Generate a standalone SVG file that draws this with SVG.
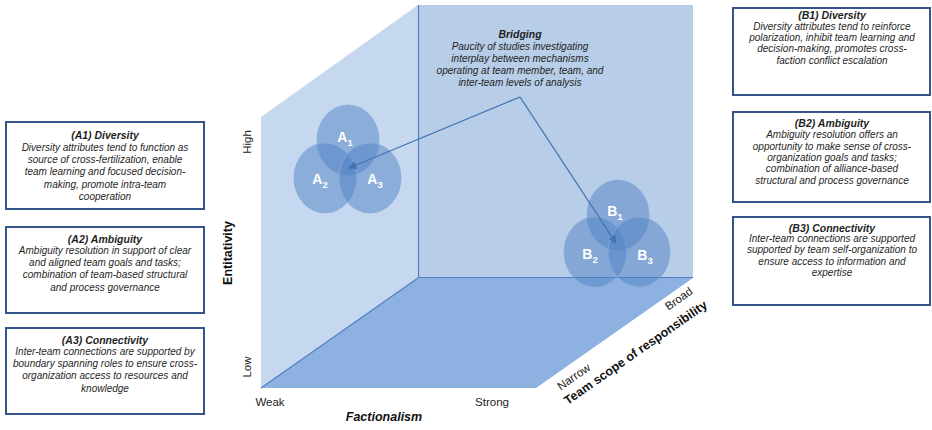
<svg xmlns="http://www.w3.org/2000/svg" width="932" height="430" viewBox="0 0 932 430">
  <style>
    .box { fill: #ffffff; stroke: #34558b; stroke-width: 2; }
    .bt { font-family: "Liberation Sans", Arial, sans-serif; font-size: 10px; font-style: italic; fill: #1f1f1f; text-anchor: middle; }
    .bh { font-weight: bold; font-size: 10.5px; }
    .edge { stroke: #4f7fbf; stroke-width: 1.2; fill: none; }
    .bubble { fill: #4f81c4; fill-opacity: 0.5; stroke: #86aadb; stroke-width: 1; stroke-opacity: 0.8; }
    .bl { font-family: "Liberation Sans", Arial, sans-serif; font-size: 14px; font-weight: bold; fill: #ffffff; text-anchor: middle; }
    .sub { font-size: 9.5px; }
    .ax { font-family: "Liberation Sans", Arial, sans-serif; font-size: 11.5px; fill: #222222; text-anchor: middle; }
    .axb { font-family: "Liberation Sans", Arial, sans-serif; font-size: 12.5px; font-weight: bold; fill: #111111; text-anchor: middle; }
    .link { stroke: #3f72b3; stroke-width: 1.3; fill: none; marker-end: url(#tip); }
  </style>
  <defs>
    <marker id="tip" viewBox="0 0 10 10" refX="9" refY="5" markerWidth="9" markerHeight="8" orient="auto" markerUnits="userSpaceOnUse">
      <path d="M0,0 L10,5 L0,10 z" fill="#3f72b3"/>
    </marker>
  </defs>

  <!-- 3D frame: back wall, side wall, floor -->
  <g id="frame">
    <rect x="418" y="5" width="275" height="273" fill="#b8cde7"/>
    <polygon points="261,117 418,5 418,278 261,388" fill="#c6d8ef"/>
    <polygon points="261,388 418,278 693,278 536,388" fill="#8db2e1"/>
    <line class="edge" x1="418.5" y1="5" x2="418.5" y2="278"/>
    <line class="edge" x1="418" y1="277.5" x2="693" y2="277.5"/>
    <line class="edge" x1="261" y1="388" x2="418" y2="278"/>
  </g>

  <!-- axis labels -->
  <g id="axes">
    <text class="ax" transform="translate(251,142) rotate(-90)">High</text>
    <text class="ax" transform="translate(251,367) rotate(-90)">Low</text>
    <text class="axb" transform="translate(232,253) rotate(-90)">Entitativity</text>
    <text class="ax" x="270" y="406">Weak</text>
    <text class="ax" x="492" y="406">Strong</text>
    <text class="axb" x="384" y="421" font-style="italic">Factionalism</text>
    <text class="ax" transform="translate(576,380) rotate(-35)">Narrow</text>
    <text class="ax" transform="translate(681,302) rotate(-35)">Broad</text>
    <text class="axb" transform="translate(638,356) rotate(-35)">Team scope of responsibility</text>
  </g>

  <!-- A cluster -->
  <g id="A1"><ellipse class="bubble" cx="348" cy="140" rx="31" ry="35"/><text class="bl" x="345" y="142">A<tspan class="sub" dy="4">1</tspan></text></g>
  <g id="A2"><ellipse class="bubble" cx="325" cy="178" rx="31" ry="35"/><text class="bl" x="320" y="184">A<tspan class="sub" dy="4">2</tspan></text></g>
  <g id="A3"><ellipse class="bubble" cx="370" cy="178" rx="31" ry="35"/><text class="bl" x="375" y="184">A<tspan class="sub" dy="4">3</tspan></text></g>

  <!-- B cluster -->
  <g id="B1"><ellipse class="bubble" cx="618" cy="215" rx="31" ry="35"/><text class="bl" x="615" y="216">B<tspan class="sub" dy="4">1</tspan></text></g>
  <g id="B2"><ellipse class="bubble" cx="595" cy="252" rx="31" ry="35"/><text class="bl" x="590" y="259">B<tspan class="sub" dy="4">2</tspan></text></g>
  <g id="B3"><ellipse class="bubble" cx="639" cy="252" rx="31" ry="35"/><text class="bl" x="645" y="260">B<tspan class="sub" dy="4">3</tspan></text></g>

  <!-- Bridging note -->
  <g id="bridging">
    <text class="bt" x="520" y="38"><tspan class="bh">Bridging</tspan></text>
    <text class="bt" x="520" y="50">Paucity of studies investigating</text>
    <text class="bt" x="520" y="62">interplay between mechanisms</text>
    <text class="bt" x="520" y="74">operating at team member, team, and</text>
    <text class="bt" x="520" y="86">inter-team levels of analysis</text>
  </g>

  <!-- connectors -->
  <g id="connectors">
    <line class="link" x1="520" y1="97" x2="349" y2="168"/>
    <line class="link" x1="520" y1="97" x2="616" y2="243"/>
  </g>

  <!-- left annotation boxes -->
  <g id="boxA1">
    <rect class="box" x="6" y="122" width="198" height="87"/>
    <text class="bt" x="105" y="139"><tspan class="bh">(A1) Diversity</tspan></text>
    <text class="bt" x="105" y="151">Diversity attributes tend to function as</text>
    <text class="bt" x="105" y="163">source of cross-fertilization,  enable</text>
    <text class="bt" x="105" y="175">team learning and focused decision-</text>
    <text class="bt" x="105" y="188">making, promote intra-team</text>
    <text class="bt" x="105" y="200">cooperation</text>
  </g>
  <g id="boxA2">
    <rect class="box" x="6" y="227" width="198" height="86"/>
    <text class="bt" x="105" y="243"><tspan class="bh">(A2) Ambiguity</tspan></text>
    <text class="bt" x="105" y="254">Ambiguity resolution in support of clear</text>
    <text class="bt" x="105" y="266">and aligned team goals and tasks;</text>
    <text class="bt" x="105" y="278">combination of team-based structural</text>
    <text class="bt" x="105" y="291">and process governance</text>
  </g>
  <g id="boxA3">
    <rect class="box" x="6" y="328" width="198" height="86"/>
    <text class="bt" x="105" y="344"><tspan class="bh">(A3) Connectivity</tspan></text>
    <text class="bt" x="105" y="355">Inter-team connections are supported by</text>
    <text class="bt" x="105" y="367">boundary spanning roles to ensure cross-</text>
    <text class="bt" x="105" y="379">organization access to resources and</text>
    <text class="bt" x="105" y="392">knowledge</text>
  </g>

  <!-- right annotation boxes -->
  <g id="boxB1">
    <rect class="box" x="733" y="8" width="197" height="87"/>
    <text class="bt" x="832" y="19"><tspan class="bh">(B1) Diversity</tspan></text>
    <text class="bt" x="832" y="30">Diversity attributes tend to reinforce</text>
    <text class="bt" x="832" y="41">polarization, inhibit team learning and</text>
    <text class="bt" x="832" y="52">decision-making, promotes cross-</text>
    <text class="bt" x="832" y="64">faction conflict escalation</text>
  </g>
  <g id="boxB2">
    <rect class="box" x="733" y="112" width="197" height="90"/>
    <text class="bt" x="832" y="127"><tspan class="bh">(B2) Ambiguity</tspan></text>
    <text class="bt" x="832" y="138">Ambiguity resolution offers an</text>
    <text class="bt" x="832" y="150">opportunity to make sense of  cross-</text>
    <text class="bt" x="832" y="161">organization goals and tasks;</text>
    <text class="bt" x="832" y="172">combination of alliance-based</text>
    <text class="bt" x="832" y="184">structural and process governance</text>
  </g>
  <g id="boxB3">
    <rect class="box" x="733" y="217" width="197" height="88"/>
    <text class="bt" x="832" y="232"><tspan class="bh">(B3) Connectivity</tspan></text>
    <text class="bt" x="832" y="242">Inter-team connections are supported</text>
    <text class="bt" x="832" y="253">supported by team self-organization to</text>
    <text class="bt" x="832" y="265">ensure access to information and</text>
    <text class="bt" x="832" y="276">expertise</text>
  </g>
</svg>
